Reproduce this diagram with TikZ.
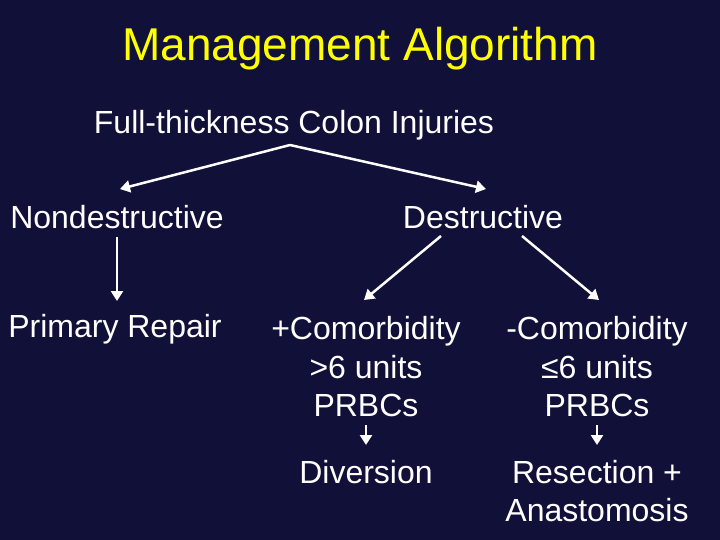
\documentclass[tikz,border=0pt]{standalone}
\usepackage{fontspec}
\setmainfont{Liberation Sans}
\usetikzlibrary{arrows.meta}
\begin{document}
\begin{tikzpicture}[x=1pt,y=-1pt,
  txt/.style={text=white,font=\fontsize{32}{38.5}\selectfont,align=center,inner sep=0pt},
  arr/.style={draw=white,line width=2.5pt,-{Triangle[length=10pt,width=12pt]}}]
\fill[fill={rgb,255:red,16;green,16;blue,56}] (0,0) rectangle (720,540);
\useasboundingbox (0,0) rectangle (720,540);
\node[txt,text={rgb,255:red,255;green,255;blue,0},font=\fontsize{46}{50}\selectfont] (title) at (360,49) {Management Algorithm};
\node[txt] (full) at (294,125) {Full-thickness Colon Injuries};
\node[txt] (nd) at (117,217) {Nondestructive};
\node[txt] (d) at (483,217) {Destructive};
\node[txt] (pr) at (115,329) {Primary Repair};
\node[txt] (pc) at (366,367) {+Comorbidity\\>6 units\\PRBCs};
\node[txt] (mc) at (597,367) {-Comorbidity\\≤6 units\\PRBCs};
\node[txt] (div) at (366,472) {Diversion};
\node[txt] (res) at (597,491) {Resection +\\Anastomosis};
\coordinate (top) at (290,145);
\draw[arr] (top) -- (120,189);
\draw[arr] (top) -- (486,189);
\draw[arr] (117,237) -- (117,301);
\draw[arr] (441,236) -- (364,300);
\draw[arr] (522,236) -- (599,300);
\draw[arr] (366,425) -- (366,445);
\draw[arr] (597,425) -- (597,445);
\end{tikzpicture}
\end{document}
